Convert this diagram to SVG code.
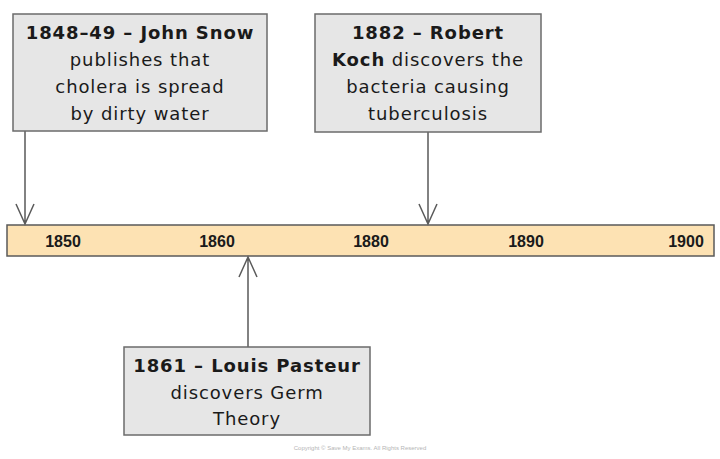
<svg xmlns="http://www.w3.org/2000/svg" width="720" height="459" viewBox="0 0 720 459">
<defs>
<style>
.box{fill:#e6e6e6;stroke:#6b6b6b;stroke-width:1.5}
.t{font-family:"DejaVu Sans","Noto Sans",sans-serif;font-size:18px;letter-spacing:0.9px;fill:#1a1a1a;text-anchor:middle}
.b{font-weight:bold}
.yr{font-family:"Liberation Sans",Arial,sans-serif;font-size:16px;font-weight:bold;fill:#1a1a1a;text-anchor:middle}
.con{stroke:#5a5a5a;stroke-width:1.5;fill:none}
</style>
</defs>
<rect width="720" height="459" fill="#ffffff"/>
<g id="timeline">
<rect x="7" y="225" width="707" height="31" fill="#fde2b3" stroke="#5a5a5a" stroke-width="1.5"/>
<text class="yr" x="63" y="247">1850</text>
<text class="yr" x="217" y="247">1860</text>
<text class="yr" x="371" y="247">1880</text>
<text class="yr" x="526" y="247">1890</text>
<text class="yr" x="686" y="247">1900</text>
</g>
<g id="connectors">
<path class="con" d="M25 131 V224 M16 204 L25 224 L34 204"/>
<path class="con" d="M428 132 V224 M419 204 L428 224 L437 204"/>
<path class="con" d="M248 347 V257 M239 277 L248 257 L257 277"/>
</g>
<g id="snow">
<rect class="box" x="13" y="14" width="254" height="117"/>
<text class="t" x="140" y="39"><tspan class="b">1848–49 – John Snow</tspan></text>
<text class="t" x="140" y="66">publishes that</text>
<text class="t" x="140" y="93">cholera is spread</text>
<text class="t" x="140" y="120">by dirty water</text>
</g>
<g id="koch">
<rect class="box" x="315" y="14" width="226" height="118"/>
<text class="t" x="428" y="39"><tspan class="b">1882 – Robert</tspan></text>
<text class="t" x="428" y="66"><tspan class="b">Koch</tspan> discovers the</text>
<text class="t" x="428" y="93">bacteria causing</text>
<text class="t" x="428" y="120">tuberculosis</text>
</g>
<g id="pasteur">
<rect class="box" x="124" y="347" width="246" height="88"/>
<text class="t" x="247" y="372"><tspan class="b">1861 – Louis Pasteur</tspan></text>
<text class="t" x="247" y="399">discovers Germ</text>
<text class="t" x="247" y="425">Theory</text>
</g>
<text x="360" y="450" font-family="Liberation Sans,Arial,sans-serif" font-size="6" fill="#b5b5b5" text-anchor="middle">Copyright © Save My Exams. All Rights Reserved</text>
</svg>
